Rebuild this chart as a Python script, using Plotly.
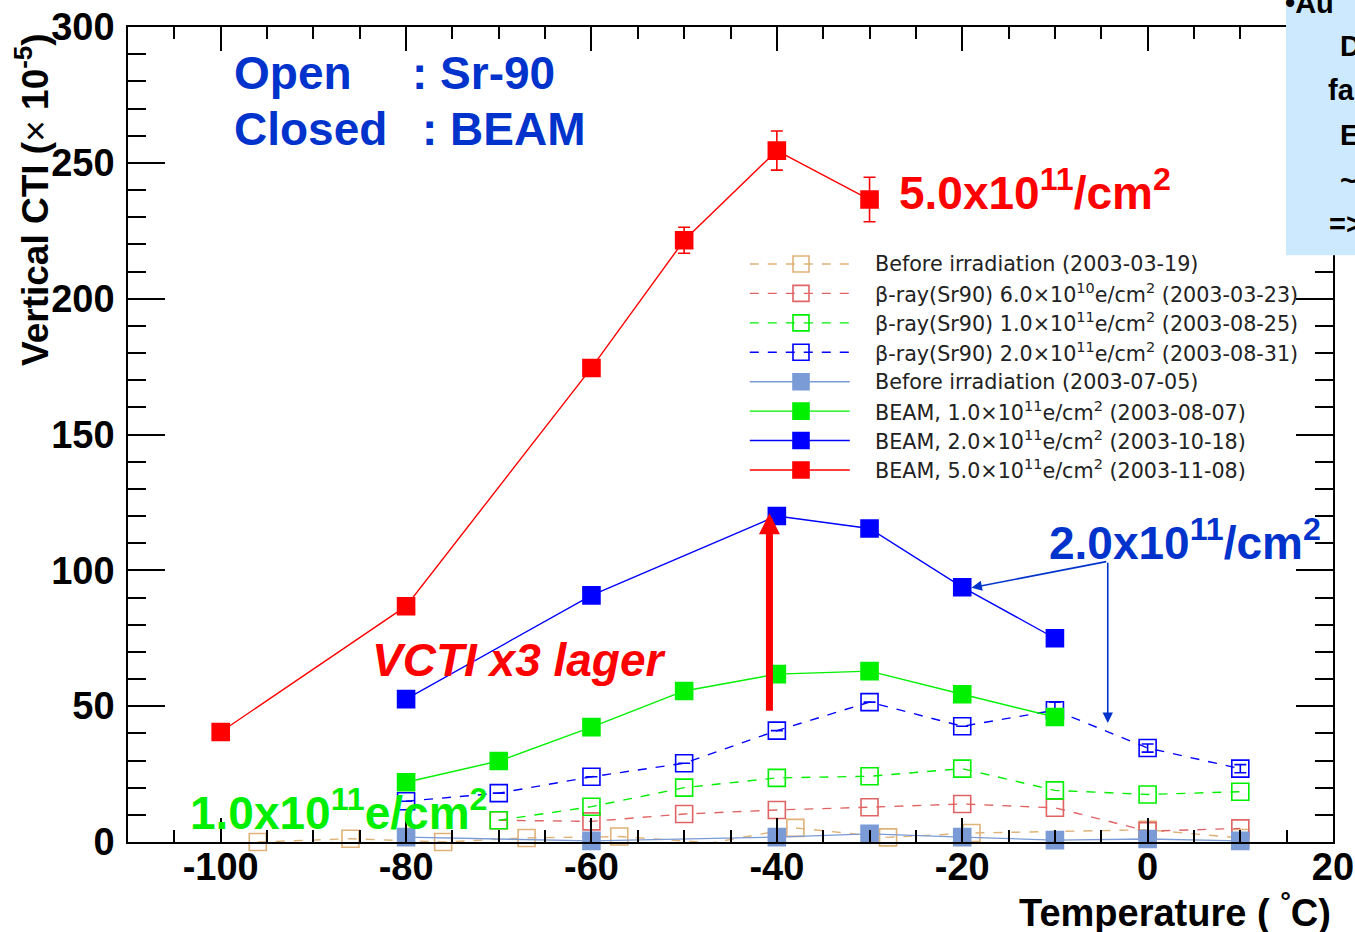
import plotly.graph_objects as go

# ---- measured data: vertical CTI (x1e-5) versus temperature (deg C) ----
t_before_sr = [-96, -86, -76, -67, -57, -47, -38, -28, -19, 0, 10]
cti_before_sr = [0.0, 1.2, 0.0, 1.5, 2.0, -0.3, 5.2, 1.7, 3.3, 4.5, 1.5]

t_sr_6e10 = [-70, -60, -50, -40, -30, -20, -10, 0, 10]
cti_sr_6e10 = [8.0, 7.6, 10.3, 11.8, 12.8, 14.0, 12.6, 4.0, 5.0]

t_sr_1e11 = [-70, -60, -50, -40, -30, -20, -10, 0, 10]
cti_sr_1e11 = [8.0, 13.0, 20.0, 23.6, 24.2, 27.0, 19.0, 17.5, 18.5]

t_sr_2e11 = [-80, -70, -60, -50, -40, -30, -20, -10, 0, 10]
cti_sr_2e11 = [15.0, 18.0, 24.0, 29.0, 41.0, 51.5, 42.6, 48.5, 34.6, 27.0]
err_sr_2e11 = [None, None, None, None, None, None, None, 3.0, 1.5, 1.5]

t_before_beam = [-80, -60, -40, -30, -20, -10, 0, 10]
cti_before_beam = [1.8, 0.4, 1.8, 3.0, 1.8, 0.7, 1.1, 0.4]

t_beam_1e11 = [-80, -70, -60, -50, -40, -30, -20, -10]
cti_beam_1e11 = [22.0, 29.8, 42.3, 55.6, 61.8, 62.9, 54.4, 46.0]

t_beam_2e11 = [-80, -60, -40, -30, -20, -10]
cti_beam_2e11 = [52.6, 90.8, 120.0, 115.4, 93.8, 75.0]

t_beam_5e11 = [-100, -80, -60, -50, -40, -30]
cti_beam_5e11 = [40.5, 86.8, 174.5, 221.5, 254.5, 236.5]
err_beam_5e11 = [1.5, 2.0, 2.5, 4.8, 7.2, 8.2]

legend_labels = [
    "Before irradiation (2003-03-19)",
    "β-ray(Sr90) 6.0×10<sup>10</sup>e/cm<sup>2</sup> (2003-03-23)",
    "β-ray(Sr90) 1.0×10<sup>11</sup>e/cm<sup>2</sup> (2003-08-25)",
    "β-ray(Sr90) 2.0×10<sup>11</sup>e/cm<sup>2</sup> (2003-08-31)",
    "Before irradiation (2003-07-05)",
    "BEAM, 1.0×10<sup>11</sup>e/cm<sup>2</sup> (2003-08-07)",
    "BEAM, 2.0×10<sup>11</sup>e/cm<sup>2</sup> (2003-10-18)",
    "BEAM, 5.0×10<sup>11</sup>e/cm<sup>2</sup> (2003-11-08)",
]

x_ticks = [-100, -80, -60, -40, -20, 0, 20]
x_ticktext = ["-100", "-80", "-60", "-40", "-20", "0", "20"]
y_ticks = [0, 50, 100, 150, 200, 250, 300]
y_ticktext = ["0", "50", "100", "150", "200", "250", "300"]

TAN = "#dfb277"
PINK = "#e06464"
GREEN = "#00f000"
BLUE = "#0000ff"
STEEL = "#7b9bd6"
RED = "#ff0000"
TXT_BLUE = "#0033cc"
TXT_GREEN = "#00ee00"

SANS = "Liberation Sans"
DASH = "9px,9px"

# (x, y, error, colour, dashed, open marker)
series = [
    (t_before_sr, cti_before_sr, None, TAN, True, True),
    (t_sr_6e10, cti_sr_6e10, None, PINK, True, True),
    (t_sr_1e11, cti_sr_1e11, None, GREEN, True, True),
    (t_sr_2e11, cti_sr_2e11, err_sr_2e11, BLUE, True, True),
    (t_before_beam, cti_before_beam, None, STEEL, False, False),
    (t_beam_1e11, cti_beam_1e11, None, GREEN, False, False),
    (t_beam_2e11, cti_beam_2e11, None, BLUE, False, False),
    (t_beam_5e11, cti_beam_5e11, err_beam_5e11, RED, False, False),
]

fig = go.Figure()
for (xs, ys, err, col, dashed, opn), name in zip(series, legend_labels):
    fig.add_trace(go.Scatter(
        x=xs, y=ys, name=name, mode="lines+markers", cliponaxis=False,
        line=dict(color=col, width=1.4, dash=DASH if dashed else "solid"),
        marker=dict(symbol="square-open" if opn else "square", size=17,
                    color=col, line=dict(color=col, width=1.6)),
        error_y=dict(type="data", array=err, visible=err is not None,
                     color=col, thickness=1.6, width=6),
        showlegend=False,
    ))

# ---- hand-drawn legend box (long key lines, as in ROOT) ----
LEG_X0, LEG_X1, LEG_XM, LEG_TX = 0.516, 0.599, 0.5585, 0.6183
LEG_Y0, LEG_DY = 0.7092, 0.0361
shapes = []
annotations = []
for i, ((xs, ys, err, col, dashed, opn), name) in enumerate(zip(series, legend_labels)):
    yy = LEG_Y0 - i * LEG_DY
    shapes.append(dict(type="line", xref="paper", yref="paper",
                       x0=LEG_X0, x1=LEG_X1, y0=yy, y1=yy,
                       line=dict(color=col, width=1.4, dash=DASH if dashed else "solid")))
    shapes.append(dict(type="rect", xref="paper", yref="paper",
                       xsizemode="pixel", ysizemode="pixel",
                       xanchor=LEG_XM, yanchor=yy, x0=-8, x1=8, y0=-8, y1=8,
                       fillcolor="rgba(0,0,0,0)" if opn else col,
                       line=dict(color=col, width=1.6)))
    annotations.append(dict(xref="paper", yref="paper", x=LEG_TX, y=yy,
                            xanchor="left", yanchor="middle", showarrow=False,
                            text=name, font=dict(family="DejaVu Sans", size=20.7, color="#222222")))

# ---- side note panel (partly outside the page) ----
shapes.append(dict(type="rect", xref="paper", yref="paper", layer="above",
                   x0=0.961, x1=1.05, y0=0.720, y1=1.05,
                   fillcolor="#cce9fd", line=dict(width=0)))
note_lines = [("•Au", 1283, 3), ("D", 1338, 46), ("fa", 1326, 90),
              ("E", 1338, 135), ("~", 1338, 180), ("=>", 1327, 224)]
for txt, px, py in note_lines:
    annotations.append(dict(xref="paper", yref="paper",
                            x=(px - 128) / 1205, y=(842 - py) / 815,
                            xanchor="left", yanchor="middle", showarrow=False, text=txt,
                            font=dict(family=SANS, size=29, color="black", weight="bold")))

# ---- labels on the plot ----
def label(x, y, text, color, size=46, italic=False):
    annotations.append(dict(x=x, y=y, xref="x", yref="y", xanchor="left", yanchor="middle",
                            showarrow=False, text=text,
                            font=dict(family=SANS, size=size, color=color, weight="bold",
                                      style="italic" if italic else "normal")))

label(-98.8, 283.0, "Open", TXT_BLUE)
label(-79.6, 283.0, ": Sr-90", TXT_BLUE)
label(-98.8, 262.5, "Closed", TXT_BLUE)
label(-78.5, 262.5, ": BEAM", TXT_BLUE)
label(-27.0, 240.0, "5.0x10<sup>11</sup>/cm<sup>2</sup>", RED)
label(-10.9, 111.0, "2.0x10<sup>11</sup>/cm<sup>2</sup>", TXT_BLUE)
label(-83.9, 67.0, "VCTI x3 lager", RED, italic=True)
label(-103.5, 11.8, "1.0x10<sup>11</sup>e/cm<sup>2</sup>", TXT_GREEN)

# thick red arrow showing the increase
annotations.append(dict(x=-40.8, y=121.0, ax=-40.8, ay=47.8, xref="x", yref="y",
                        axref="x", ayref="y", text="", showarrow=True,
                        arrowhead=2, arrowsize=0.6, arrowwidth=7, arrowcolor=RED))
# blue pointer lines to the 2.0x10^11 curves
for hx, hy in [(-19.0, 93.6), (-4.3, 43.8)]:
    annotations.append(dict(x=hx, y=hy, ax=-4.3, ay=103.3, xref="x", yref="y",
                            axref="x", ayref="y", text="", showarrow=True,
                            arrowhead=2, arrowsize=1.3, arrowwidth=1.6, arrowcolor=TXT_BLUE))

# axis titles
annotations.append(dict(xref="paper", yref="paper", x=1.0, y=-0.084,
                        xanchor="right", yanchor="middle", showarrow=False,
                        text="Temperature ( <sup>°</sup>C)",
                        font=dict(family=SANS, size=38, color="black", weight="bold")))
annotations.append(dict(xref="paper", yref="paper", x=-0.0787, y=0.788,
                        xanchor="center", yanchor="middle", showarrow=False, textangle=-90,
                        text="Vertical CTI (<span style='font-weight:normal'>×</span> 10<sup>-5</sup>)",
                        font=dict(family=SANS, size=37, color="black", weight="bold")))

axis_common = dict(
    showline=True, linecolor="black", linewidth=1.6, mirror="ticks",
    ticks="inside", tickcolor="black", tickwidth=1.6,
    showgrid=False, zeroline=False, automargin=False,
    tickfont=dict(family=SANS, size=38, color="black", weight="bold"),
)

fig.update_layout(
    width=1355, height=932, autosize=False,
    margin=dict(l=128, r=22, t=27, b=90),
    paper_bgcolor="white", plot_bgcolor="white",
    xaxis=dict(range=[-110, 20], tickvals=x_ticks, ticktext=x_ticktext, ticklen=24,
               ticklabelstandoff=-9,
               minor=dict(dtick=5, tick0=-100, ticks="inside", ticklen=12,
                          tickcolor="black", tickwidth=1.6),
               **axis_common),
    yaxis=dict(range=[0, 300], tickvals=y_ticks, ticktext=y_ticktext, ticklen=37,
               ticklabelstandoff=4,
               minor=dict(dtick=10, tick0=0, ticks="inside", ticklen=18,
                          tickcolor="black", tickwidth=1.6),
               **axis_common),
    shapes=shapes,
    annotations=annotations,
    showlegend=False,
)

fig.write_html("out.html")
